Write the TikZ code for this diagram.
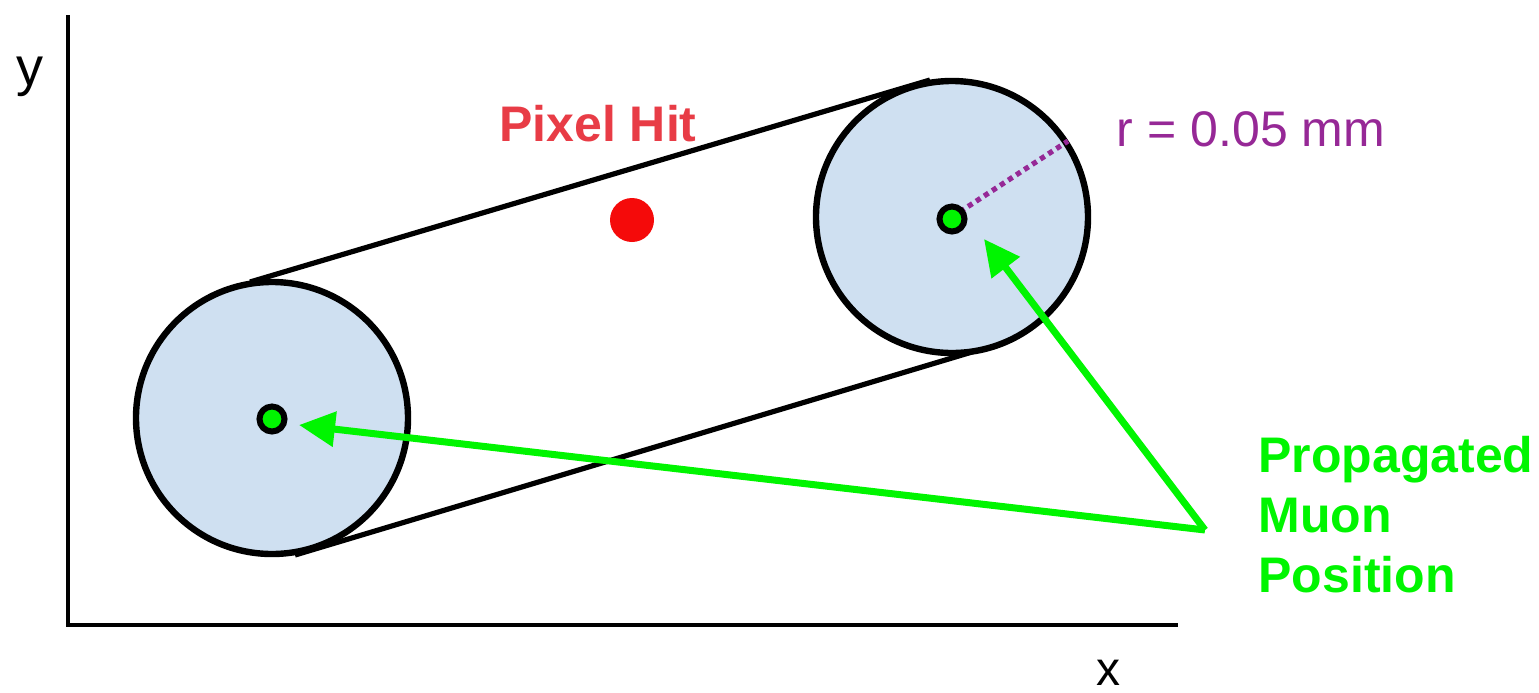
\documentclass[tikz,border=0pt]{standalone}
\usepackage{fontspec}
\setmainfont{Liberation Sans}
\usetikzlibrary{arrows.meta}
\definecolor{cfill}{RGB}{207,224,241}
\definecolor{mgreen}{RGB}{0,245,0}
\definecolor{hitred}{RGB}{232,60,70}
\definecolor{dotred}{RGB}{245,10,10}
\definecolor{rpurple}{RGB}{150,40,150}
\tikzset{
  bigcirc/.style={circle, draw=black, line width=3.2pt, fill=cfill, minimum size=136pt, inner sep=0pt},
  muondot/.style={circle, draw=black, line width=3pt, fill=mgreen, minimum size=12.5pt, inner sep=0pt},
  hitdot/.style={circle, fill=dotred, minimum size=22pt, inner sep=0pt},
  axis/.style={line width=2.4pt},
  tangent/.style={line width=2.6pt},
  garrow/.style={draw=mgreen, line width=3.5pt, -{Triangle[length=18pt,width=17pt]}},
  glabel/.style={font=\fontsize{25}{30}\selectfont\bfseries, text=mgreen, align=left, inner sep=0pt}
}
\begin{document}
\begin{tikzpicture}[x=0.5pt,y=-0.5pt]
\useasboundingbox (0,0) rectangle (1539,692);
% axes
\coordinate (ytop) at (68,15);
\coordinate (orig) at (68,625);
\coordinate (xend) at (1178,625);
\draw[axis] (ytop) -- (orig) -- (xend);
\node[font=\fontsize{27}{30}\selectfont, inner sep=0pt, anchor=base] (ylab) at (30,85) {y};
\node[font=\fontsize{24}{28}\selectfont, inner sep=0pt, anchor=base] (xlab) at (1108,685) {x};
% circles
\node[bigcirc] (cl) at (272,418) {};
\node[bigcirc] (cr) at (952,217) {};
% connecting lines
\coordinate (t1) at (250,282);
\coordinate (t2) at (930,80);
\coordinate (b1) at (295,555);
\coordinate (b2) at (972,352);
\draw[tangent] (t1) -- (t2);
\draw[tangent] (b1) -- (b2);
% radius
\coordinate (redge) at (1068,141);
\draw[rpurple, line width=2.6pt, dash pattern=on 2.6pt off 2.2pt] (cr.center) -- (redge);
% dots
\node[muondot] (ml) at (272,419) {};
\node[muondot] (mr) at (952,219) {};
\node[hitdot] (hit) at (632,220) {};
% labels
\node[font=\fontsize{25}{30}\selectfont\bfseries, text=hitred, anchor=base, inner sep=0pt] (hitlab) at (598,141) {Pixel Hit};
\node[font=\fontsize{25}{30}\selectfont, text=rpurple, anchor=base, inner sep=0pt] (rlab) at (1251,146) {r = 0.05 mm};
\node[glabel, anchor=north west] (glab) at (1258,436) {Propagated\\Muon\\Position};
% arrows
\coordinate (src) at (1205,530);
\draw[garrow] (src) -- (299,425);
\draw[garrow] (src) -- (984,239);
\end{tikzpicture}
\end{document}
